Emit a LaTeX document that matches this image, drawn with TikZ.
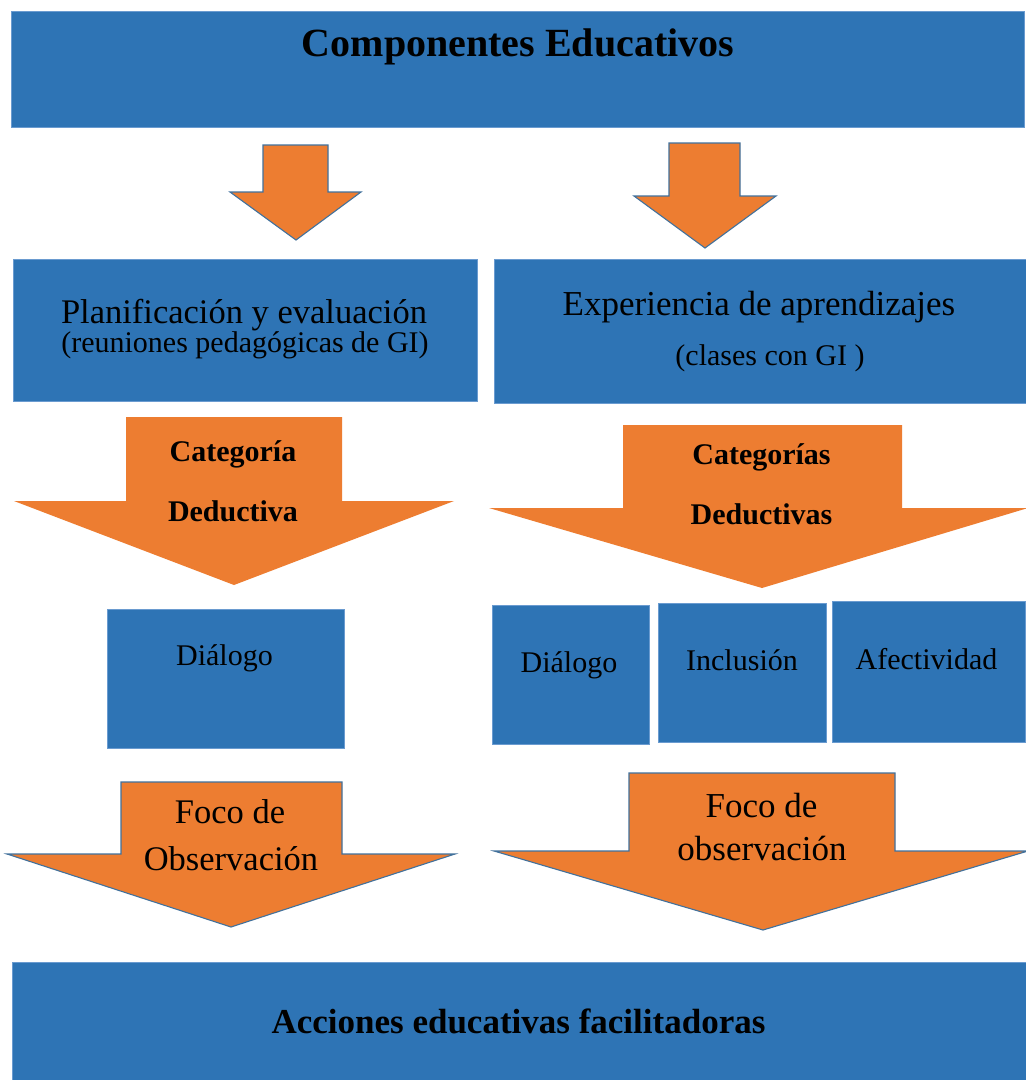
\documentclass[tikz,border=0pt]{standalone}
\usepackage{fontspec}
\setmainfont{Liberation Serif}
\definecolor{boxblue}{HTML}{2E74B5}
\definecolor{boxedge}{HTML}{6A9BD0}
\definecolor{arrorange}{HTML}{ED7D31}
\definecolor{arredge}{HTML}{41719C}
\newcommand{\fsz}[1]{\fontsize{#1}{#1}\selectfont}
% block arrow pointing down:
% #1 name, #2 shaft left, #3 shaft right, #4 top, #5 shoulder,
% #6 wing left, #7 wing right, #8 tip x, #9 tip y, extra style via \arrstyle
\newcommand{\blockdown}[9]{%
  \coordinate (#1-tip) at (#8,#9);
  \path[blockarrow] (#2,#4) -- (#3,#4) -- (#3,#5) -- (#7,#5) -- (#1-tip)
     -- (#6,#5) -- (#2,#5) -- cycle;}
\tikzset{
  box/.style={rectangle, fill=boxblue, draw=boxedge, line width=0.8pt,
    anchor=north west, inner sep=0pt},
  blockarrow/.style={fill=arrorange, draw=arredge, line width=1.1pt, line join=miter},
  softarrow/.style={blockarrow/.append style={draw=none}},
  lbl/.style={anchor=base, inner sep=0pt, text=black},
}
\begin{document}
\begin{tikzpicture}[x=1pt, y=-1pt]
\useasboundingbox (0,0) rectangle (1026,1080);
\fill[white] (0,0) rectangle (1026,1080);

% blue boxes
\node[box, minimum width=1013pt, minimum height=116pt] (top) at (11,11) {};
\node[box, minimum width=464pt, minimum height=142pt] (plan) at (13,259) {};
\node[box, minimum width=532pt, minimum height=144pt] (exp) at (494,259) {};
\node[box, minimum width=237pt, minimum height=139pt] (dialL) at (107,609) {};
\node[box, minimum width=157pt, minimum height=139pt] (dialR) at (492,605) {};
\node[box, minimum width=168pt, minimum height=139pt] (incl) at (658,603) {};
\node[box, minimum width=193pt, minimum height=141pt] (afec) at (832,601) {};
\node[box, minimum width=1014pt, minimum height=118pt] (acc) at (12,962) {};

% orange block arrows
\blockdown{aL}{263}{328}{145}{192}{230}{361}{296}{240}
\blockdown{aR}{669}{740}{143}{196}{634}{776}{705}{248}
\begin{scope}[blockarrow/.append style={draw=none}]
\blockdown{catL}{126}{342}{417}{501}{14}{454}{234}{585}
\blockdown{catR}{623}{902}{425}{508}{489}{1028}{762}{588}
\end{scope}
\blockdown{focL}{121}{342}{782}{854}{7}{455}{231}{927}
\blockdown{focR}{629}{895}{773}{851}{494}{1028}{763}{930}

% labels
\node[lbl, font=\fsz{40}\bfseries] (t-top) at (518,56) {Componentes Educativos};
\node[lbl, font=\fsz{34.5}] (t-plan1) at (244,323) {Planificación y evaluación};
\node[lbl, font=\fsz{30}] (t-plan2) at (245,352) {(reuniones pedagógicas de GI)};
\node[lbl, font=\fsz{35}] (t-exp1) at (759,315) {Experiencia de aprendizajes};
\node[lbl, font=\fsz{30}] (t-exp2) at (770,365) {(clases con GI )};
\node[lbl, font=\fsz{30}\bfseries] (t-catL1) at (233,461) {Categoría};
\node[lbl, font=\fsz{30}\bfseries] (t-catL2) at (233,521) {Deductiva};
\node[lbl, font=\fsz{30}\bfseries] (t-catR1) at (761.5,464) {Categorías};
\node[lbl, font=\fsz{30}\bfseries] (t-catR2) at (761.5,524) {Deductivas};
\node[lbl, font=\fsz{30}] (t-dialL) at (224.5,665) {Diálogo};
\node[lbl, font=\fsz{30}] (t-dialR) at (569,672) {Diálogo};
\node[lbl, font=\fsz{30}] (t-incl) at (742,670) {Inclusión};
\node[lbl, font=\fsz{30}] (t-afec) at (926.5,669) {Afectividad};
\node[lbl, font=\fsz{34.5}] (t-focL1) at (230,823) {Foco de};
\node[lbl, font=\fsz{34.5}] (t-focL2) at (231,870) {Observación};
\node[lbl, font=\fsz{35}] (t-focR1) at (761.5,817) {Foco de};
\node[lbl, font=\fsz{35}] (t-focR2) at (762,860) {observación};
\node[lbl, font=\fsz{35}\bfseries] (t-acc) at (518.5,1033) {Acciones educativas facilitadoras};
\end{tikzpicture}
\end{document}
